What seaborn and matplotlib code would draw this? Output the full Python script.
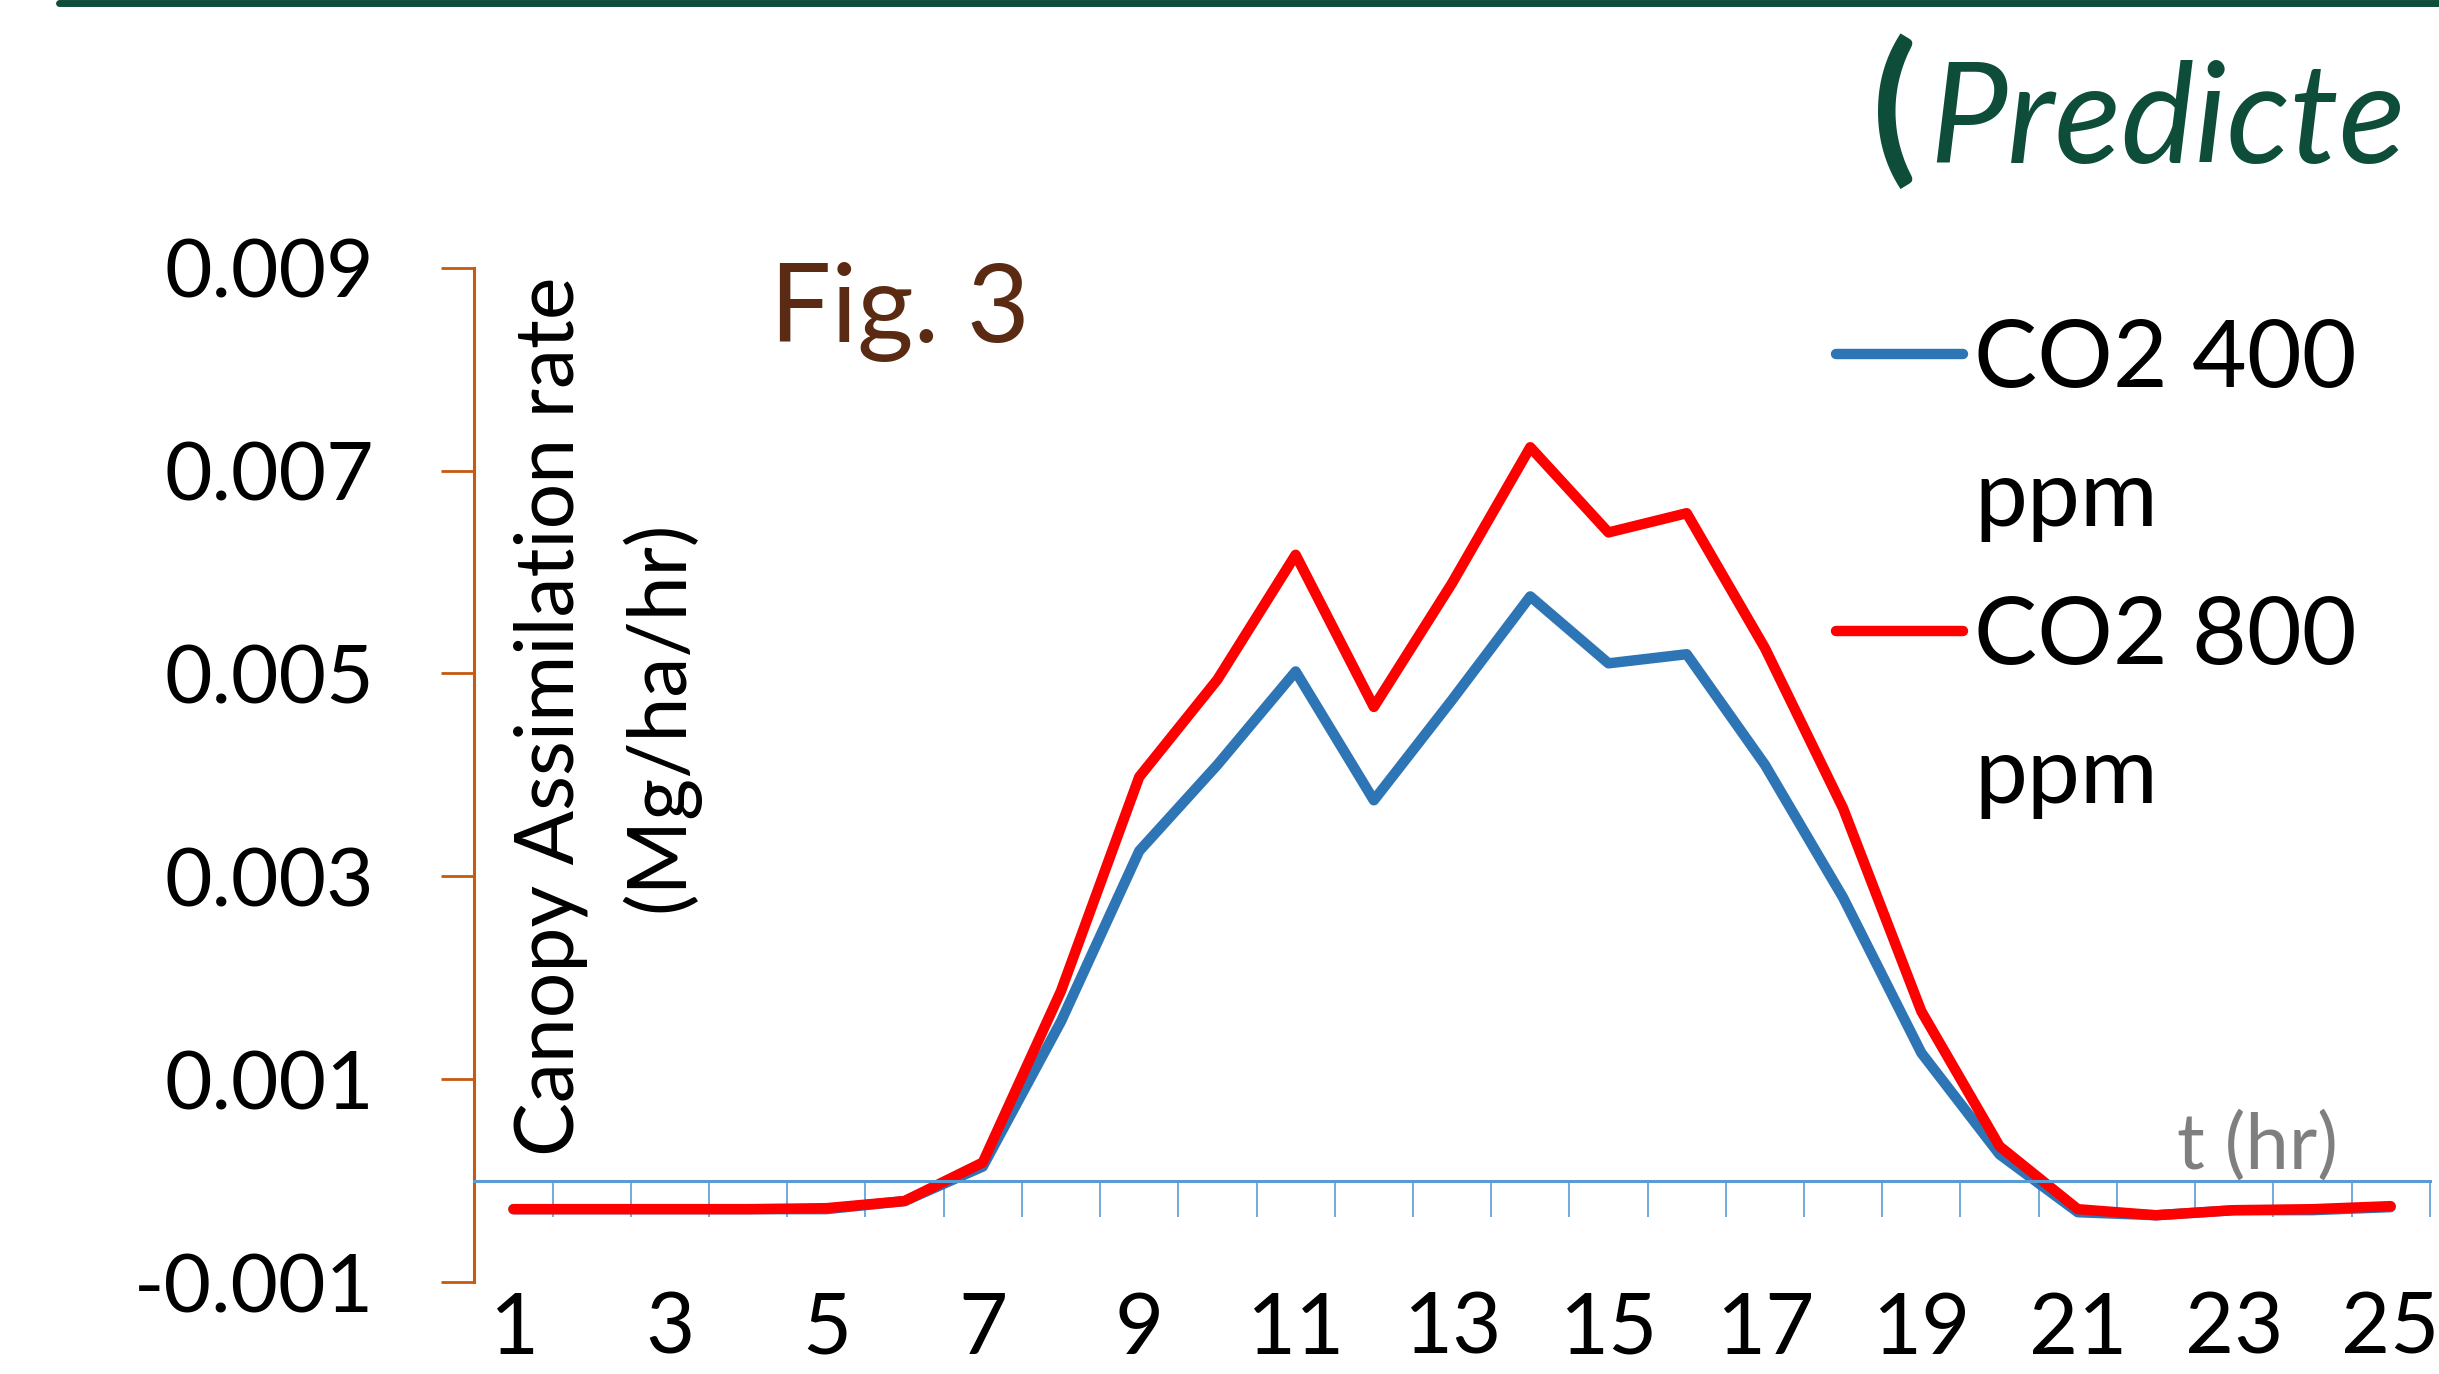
import numpy as np
import pandas as pd
import seaborn as sns
import matplotlib.pyplot as plt
from matplotlib.lines import Line2D

# data
hours = list(range(1, 26))
co2_400 = [-0.00028, -0.00028, -0.00028, -0.00028, -0.00028, -0.0002, 0.00014,
           0.00157, 0.00325, 0.0041, 0.00502, 0.00375, 0.00474, 0.00576, 0.0051,
           0.00519, 0.0041, 0.00279, 0.00126, 0.00026, -0.00031, -0.00034,
           -0.00029, -0.00029, -0.00026]
co2_800 = [-0.00028, -0.00028, -0.00028, -0.00028, -0.00027, -0.0002, 0.00018,
           0.00187, 0.00398, 0.00494, 0.00617, 0.00467, 0.00589, 0.00723, 0.00639,
           0.00658, 0.00525, 0.00367, 0.00167, 0.00034, -0.00028, -0.00034,
           -0.00029, -0.00028, -0.00025]
series_names = ['CO2 400 ppm', 'CO2 800 ppm']
y_ticks = [-0.001, 0.001, 0.003, 0.005, 0.007, 0.009]
y_tick_labels = ['-0.001', '0.001', '0.003', '0.005', '0.007', '0.009']
x_label_hours = hours[::2]
x_tick_labels = [str(h) for h in x_label_hours]

df = pd.DataFrame({
    'hour': hours * 2,
    'rate': co2_400 + co2_800,
    'series': [series_names[0]] * len(hours) + [series_names[1]] * len(hours),
})

sns.set_style('white')
plt.rcParams['font.family'] = ['Lato', 'DejaVu Sans']
plt.rcParams['text.color'] = 'black'
plt.rcParams['axes.labelcolor'] = 'black'
plt.rcParams['xtick.labelcolor'] = 'black'
plt.rcParams['ytick.labelcolor'] = 'black'

green = '#0E4D3A'
orange = '#C55A11'
axis_blue = '#5B9BD5'
lw = 7.5

fig = plt.figure(figsize=(24.39, 13.74), dpi=100)
ax = fig.add_axes([0.1945, 0.0668, 0.8017, 0.7384])

sns.lineplot(data=df, x='hour', y='rate', hue='series',
             palette=['#2E75B6', '#FF0000'], linewidth=lw, ax=ax)

ax.set_xlim(0.5, 25.5)
ax.set_ylim(-0.001, 0.009)

# spines
ax.spines['top'].set_visible(False)
ax.spines['right'].set_visible(False)
ax.spines['left'].set_color(orange)
ax.spines['left'].set_linewidth(2.2)
ax.spines['bottom'].set_position(('data', 0))
ax.spines['bottom'].set_color(axis_blue)
ax.spines['bottom'].set_linewidth(2.2)

# category boundary ticks on the zero line
ax.set_xticks(np.arange(0.5, 25.6, 1))
ax.tick_params(axis='x', bottom=True, direction='out', length=26, width=1.2,
               color=axis_blue, labelbottom=False)

ax.set_yticks(y_ticks, y_tick_labels)
ax.tick_params(axis='y', left=True, direction='out', length=24, width=2,
               color=orange, labelsize=59, labelcolor='black', pad=48)

# hour labels sit at the bottom of the plot
sec = ax.secondary_xaxis(0)
sec.set_xticks(x_label_hours, x_tick_labels)
sec.tick_params(length=0, labelsize=61, labelcolor='black', pad=6)
for s in sec.spines.values():
    s.set_visible(False)

ax.set_xlabel('t (hr)', fontsize=56, color='#7F7F7F')
ax.xaxis.set_label_coords(0.912, 0.112)
ax.xaxis.label.set_va('baseline')

ax.set_ylabel('Canopy Assimilation rate\n(Mg/ha/hr)', fontsize=58, linespacing=1.5)
ax.yaxis.set_label_coords(0.0676, 0.558)
ax.yaxis.label.set_va('center')

# legend: each label wraps onto a second row ("ppm")
old = ax.get_legend()
line_handles = old.legend_handles
old.remove()
blank = Line2D([], [], linestyle='none')
handles, labels = [], []
for h, name in zip(line_handles, series_names):
    first, second = name.rsplit(' ', 1)
    handles += [h, blank]
    labels += [first, second]
leg = fig.legend(handles, labels, loc='upper left', bbox_to_anchor=(0.7526, 0.768),
                 frameon=False, borderpad=0, borderaxespad=0, handlelength=1.35,
                 handletextpad=0.12, labelspacing=0.58, fontsize=68)
for ln in leg.get_lines():
    ln.set_linewidth(lw)

# header decorations
fig.add_artist(Line2D([0.024, 1.0], [0.998, 0.998], color=green, linewidth=5,
                      transform=fig.transFigure))
fig.text(0.7675, 0.8811, '(', fontsize=118, fontweight='bold', color=green, va='baseline')
fig.text(0.7908, 0.8811, 'Predicte', fontsize=100, fontstyle='italic', color=green,
         va='baseline')
fig.text(0.3157, 0.7508, 'Fig. 3', fontsize=78, color='#5B2A13', va='baseline')

fig.savefig('out.png', dpi=100)
